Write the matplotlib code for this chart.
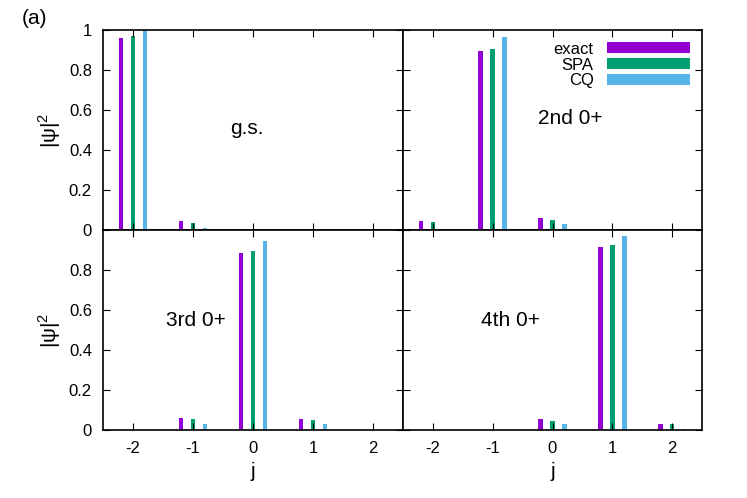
import matplotlib
matplotlib.use("Agg")
import matplotlib.pyplot as plt
import numpy as np

plt.rcParams["font.family"] = "Liberation Sans"
plt.rcParams["axes.unicode_minus"] = False
plt.rcParams["mathtext.fontset"] = "custom"
plt.rcParams["mathtext.rm"] = "Liberation Sans"

j = [-2, -1, 0, 1, 2]
titles = ["g.s.", "2nd 0+", "3rd 0+", "4th 0+"]
exact = [[0.958, 0.045, 0, 0, 0], [0.045, 0.895, 0.058, 0, 0],
         [0, 0.062, 0.885, 0.055, 0], [0, 0, 0.055, 0.915, 0.030]]
spa = [[0.971, 0.033, 0, 0, 0], [0.040, 0.905, 0.050, 0, 0],
       [0, 0.055, 0.895, 0.048, 0], [0, 0, 0.045, 0.925, 0.030]]
cq = [[0.998, 0.008, 0, 0, 0], [0.005, 0.965, 0.030, 0, 0],
      [0, 0.030, 0.945, 0.028, 0], [0, 0, 0.028, 0.970, 0.005]]
names = ["exact", "SPA", "CQ"]
colors = ["#9400D3", "#009E73", "#56B4E9"]
text_pos = [(0.48, 0.51), (0.56, 0.56), (0.31, 0.55), (0.36, 0.55)]

W, H = 747, 498
fig = plt.figure(figsize=(W/100, H/100), dpi=100)
x0, xm, x1 = 103, 403, 702
yt, ym, yb = 30, 230, 430
rects = [(x0, yt, xm, ym), (xm, yt, x1, ym), (x0, ym, xm, yb), (xm, ym, x1, yb)]
jj = np.array(j)
for k, (l, t, r, b) in enumerate(rects):
    ax = fig.add_axes([l/W, 1-b/H, (r-l)/W, (b-t)/H])
    for s, (data, c, n) in enumerate(zip([exact, spa, cq], colors, names)):
        ax.bar(jj + (s-1)*0.2, data[k], width=0.08, color=c, label=n)
    ax.set_xlim(-2.5, 2.5)
    ax.set_ylim(0, 1)
    ax.set_xticks(j)
    ax.set_yticks(np.arange(0, 1.01, 0.2))
    ax.tick_params(direction="in", top=True, right=True, labelsize=12, length=5, pad=8)
    ax.set_yticklabels(["0", "0.2", "0.4", "0.6", "0.8", "1"])
    for sp in ax.spines.values():
        sp.set_linewidth(1.2)
    if k % 2 == 1:
        ax.set_yticklabels([])
    else:
        ax.set_ylabel("|ψ|$^2$", fontsize=15)
        if k == 2:
            ax.set_yticklabels(["0", "0.2", "0.4", "0.6", "0.8", ""])
    if k < 2:
        ax.set_xticklabels([])
    else:
        ax.set_xlabel("j", fontsize=15)
    ax.text(*text_pos[k], titles[k], transform=ax.transAxes, fontsize=15,
            ha="center", va="center")
    if k == 1:
        ax.legend(loc="upper right", fontsize=12, frameon=False, markerfirst=False,
                  handlelength=5, handleheight=0.6, borderaxespad=0.3,
                  labelspacing=0.05, handletextpad=0.8)
fig.text(22/W, 1-18/H, "(a)", fontsize=15, va="center")
fig.savefig("out.png", dpi=100)
